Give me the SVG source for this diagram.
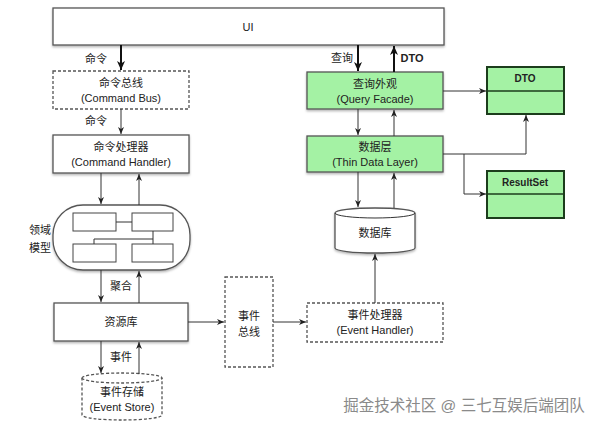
<svg xmlns="http://www.w3.org/2000/svg" width="592" height="426" viewBox="0 0 592 426">
<defs>
<style>
text{font-family:"Liberation Sans","Noto Sans CJK SC",sans-serif;font-size:11px;fill:#222;text-anchor:middle}
.b{font-weight:bold}
.box{fill:#fff;stroke:#555;stroke-width:1.3}
.dash{fill:#fff;stroke:#555;stroke-width:1.3;stroke-dasharray:3,2}
.green{fill:#a4f2a4;stroke:#555;stroke-width:1.3}
.cls{fill:#a4f2a4;stroke:#1c3d1c;stroke-width:2}
.ln{fill:none;stroke:#333;stroke-width:1}
.thick{fill:none;stroke:#111;stroke-width:2}
.in{fill:#fff;stroke:#444;stroke-width:1}
.wm{font-size:15.5px;fill:#8a8a8a}
</style>
<marker id="ah" markerWidth="8" markerHeight="8" refX="7" refY="4" orient="auto" markerUnits="userSpaceOnUse">
<path d="M0,1 L7,4 L0,7 L2,4 Z" fill="#222"/>
</marker>
<marker id="ahb" markerWidth="10" markerHeight="10" refX="9" refY="5" orient="auto" markerUnits="userSpaceOnUse">
<path d="M0,1 L9,5 L0,9 L2.5,5 Z" fill="#111"/>
</marker>
<filter id="sh" x="-5%" y="-5%" width="115%" height="125%">
<feDropShadow dx="0" dy="1.5" stdDeviation="1" flood-color="#000" flood-opacity="0.3"/>
</filter>
</defs>
<rect width="592" height="426" fill="#fff"/>

<g id="ui"><rect class="box" x="53" y="8" width="391" height="37" filter="url(#sh)"/><text x="248" y="31">UI</text></g>

<g id="command-bus"><rect class="dash" x="53" y="71" width="136" height="38"/><text x="121" y="87">命令总线</text><text x="121" y="102">(Command Bus)</text></g>

<g id="command-handler"><rect class="box" x="53" y="135" width="136" height="38" filter="url(#sh)"/><text x="121" y="151">命令处理器</text><text x="121" y="166">(Command Handler)</text></g>

<g id="domain-model">
<rect class="box" x="53" y="205" width="137" height="65" rx="30" ry="30" filter="url(#sh)"/>
<rect class="in" x="73" y="213" width="43" height="18"/>
<rect class="in" x="132" y="213" width="41" height="18"/>
<rect class="in" x="73" y="244" width="43" height="18"/>
<rect class="in" x="132" y="244" width="41" height="18"/>
<path class="ln" d="M116,222 H132 M153,231 V244 M153,239 H94 V244"/>
<text x="40" y="234">领域</text><text x="40" y="252">模型</text>
</g>

<g id="repository"><rect class="box" x="54" y="303" width="134" height="38" filter="url(#sh)"/><text x="121" y="326">资源库</text></g>

<g id="event-store">
<path class="dash" d="M82,378 A40,5 0 0 1 162,378 V415 A40,5 0 0 1 82,415 Z"/>
<path class="dash" d="M82,378 A40,5 0 0 0 162,378" fill="none"/>
<text x="122" y="396">事件存储</text><text x="122" y="411">(Event Store)</text>
</g>

<g id="event-bus"><rect class="dash" x="225" y="277" width="48" height="90"/><text x="249" y="320">事件</text><text x="249" y="336">总线</text></g>

<g id="event-handler"><rect class="dash" x="307" y="303" width="136" height="39"/><text x="375" y="319">事件处理器</text><text x="375" y="334">(Event Handler)</text></g>

<g id="database">
<path class="box" d="M335,213 A40,5 0 0 1 415,213 V248 A40,5 0 0 1 335,248 Z" filter="url(#sh)"/>
<path class="ln" d="M335,213 A40,5 0 0 0 415,213" stroke="#555"/>
<text x="375" y="237">数据库</text>
</g>

<g id="query-facade"><rect class="green" x="307" y="72" width="136" height="37" filter="url(#sh)"/><text x="375" y="88">查询外观</text><text x="375" y="103">(Query Facade)</text></g>

<g id="data-layer"><rect class="green" x="307" y="136" width="136" height="36" filter="url(#sh)"/><text x="375" y="151">数据层</text><text x="375" y="166">(Thin Data Layer)</text></g>

<g id="dto"><rect class="cls" x="487" y="67" width="77" height="47"/><line x1="487" y1="91" x2="564" y2="91" stroke="#1c3d1c" stroke-width="1.5"/><text class="b" x="525" y="82" style="font-size:10px">DTO</text></g>

<g id="resultset"><rect class="cls" x="487" y="171" width="77" height="47"/><line x1="487" y1="194" x2="564" y2="194" stroke="#1c3d1c" stroke-width="1.5"/><text class="b" x="525" y="186" style="font-size:10px">ResultSet</text></g>

<g id="connectors">
<line class="thick" x1="121" y1="45" x2="121" y2="70" marker-end="url(#ahb)"/>
<text x="96" y="63">命令</text>
<line class="ln" x1="121" y1="109" x2="121" y2="134" marker-end="url(#ah)"/>
<text x="96" y="125">命令</text>
<line class="ln" x1="101" y1="173" x2="101" y2="204" marker-end="url(#ah)"/>
<line class="ln" x1="139" y1="205" x2="139" y2="174" marker-end="url(#ah)"/>
<line class="ln" x1="101" y1="270" x2="101" y2="302" marker-end="url(#ah)"/>
<line class="ln" x1="139" y1="303" x2="139" y2="271" marker-end="url(#ah)"/>
<text x="121" y="290">聚合</text>
<line class="ln" x1="101" y1="341" x2="101" y2="373" marker-end="url(#ah)"/>
<line class="ln" x1="139" y1="374" x2="139" y2="342" marker-end="url(#ah)"/>
<text x="121" y="361">事件</text>
<line class="ln" x1="188" y1="322" x2="224" y2="322" marker-end="url(#ah)"/>
<line class="ln" x1="273" y1="322" x2="306" y2="322" marker-end="url(#ah)"/>
<line class="ln" x1="375" y1="303" x2="375" y2="254" marker-end="url(#ah)"/>
<line class="thick" x1="358" y1="45" x2="358" y2="71" marker-end="url(#ahb)"/>
<text x="342" y="62">查询</text>
<line class="thick" x1="394" y1="72" x2="394" y2="46" marker-end="url(#ahb)"/>
<text class="b" x="412" y="62">DTO</text>
<line class="ln" x1="358" y1="109" x2="358" y2="135" marker-end="url(#ah)"/>
<line class="ln" x1="394" y1="136" x2="394" y2="110" marker-end="url(#ah)"/>
<line class="ln" x1="358" y1="172" x2="358" y2="207" marker-end="url(#ah)"/>
<line class="ln" x1="394" y1="208" x2="394" y2="173" marker-end="url(#ah)"/>
<line class="ln" x1="443" y1="91" x2="486" y2="91" marker-end="url(#ah)"/>
<path class="ln" d="M443,154 H526 V115" marker-end="url(#ah)"/>
<path class="ln" d="M464,154 V194 H486" marker-end="url(#ah)"/>
</g>

<text class="wm" x="464" y="411">掘金技术社区 @ 三七互娱后端团队</text>
</svg>
